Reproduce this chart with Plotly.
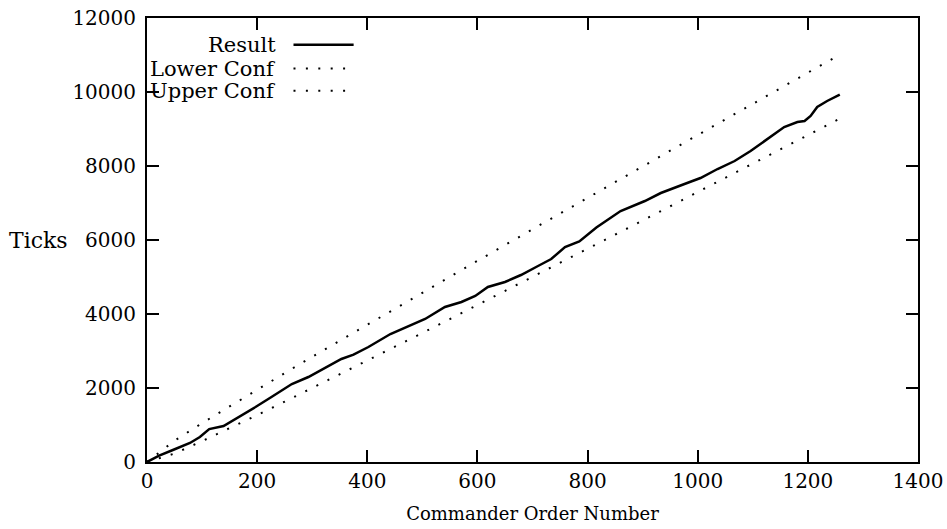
import plotly.graph_objects as go

# Result (cumulative ticks)
result_x = [0, 22, 47, 78, 96, 113, 139, 167, 197, 226, 263, 293, 324, 353, 375, 402, 442,
            475, 505, 541, 571, 596, 619, 650, 679, 710, 734, 759, 785, 816, 860, 904, 933,
            976, 1005, 1036, 1067, 1096, 1127, 1157, 1181, 1194, 1205, 1217, 1235, 1258]
result_y = [0, 170, 324, 514, 676, 890, 973, 1216, 1486, 1757, 2108, 2297, 2540, 2784, 2900,
            3108, 3459, 3676, 3865, 4189, 4324, 4486, 4730, 4865, 5054, 5297, 5486, 5811,
            5960, 6338, 6784, 7054, 7270, 7514, 7676, 7919, 8135, 8405, 8730, 9054, 9189,
            9216, 9351, 9595, 9757, 9930]

conf_x = [0, 50, 100, 150, 200, 250, 300, 350, 400, 450, 500, 550, 600, 650, 700, 750,
          800, 850, 900, 950, 1000, 1050, 1100, 1150, 1200, 1258]
lower_y = [0, 230, 563, 911, 1268, 1630, 1997, 2367, 2738, 3111, 3487, 3864, 4241, 4620,
           5000, 5381, 5762, 6144, 6527, 6910, 7293, 7677, 8063, 8448, 8833, 9280]
upper_y = [0, 576, 1051, 1509, 1958, 2402, 2843, 3279, 3714, 4147, 4579, 5008, 5437, 5864,
           6292, 6717, 7142, 7566, 7991, 8414, 8837, 9259, 9681, 10102, 10523, 11010]

x_ticks = [0, 200, 400, 600, 800, 1000, 1200, 1400]
y_ticks = [0, 2000, 4000, 6000, 8000, 10000, 12000]

FONT = "DejaVu Serif"
FS_TICK = 20
FS_TEXT = 21
DOT = "2px,10.4px"

fig = go.Figure()
fig.add_trace(go.Scatter(x=conf_x, y=upper_y, mode="lines", name="Upper Conf",
                         line=dict(color="black", width=2, dash=DOT), showlegend=False))
fig.add_trace(go.Scatter(x=conf_x, y=lower_y, mode="lines", name="Lower Conf",
                         line=dict(color="black", width=2, dash=DOT), showlegend=False))
fig.add_trace(go.Scatter(x=result_x, y=result_y, mode="lines", name="Result",
                         line=dict(color="black", width=2.5), showlegend=False))

# custom legend: text on the left, sample on the right
legend_items = [("Result", None, 0.940), ("Lower Conf", DOT, 0.886), ("Upper Conf", DOT, 0.836)]
for label, dash, yp in legend_items:
    fig.add_annotation(x=0.170, y=yp, xref="paper", yref="paper", text=label,
                       showarrow=False, xanchor="right", yanchor="middle",
                       font=dict(family=FONT, size=FS_TEXT, color="black"))
    fig.add_shape(type="line", xref="paper", yref="paper", x0=0.190, x1=0.268, y0=yp, y1=yp,
                  line=dict(color="black", width=2.5 if dash is None else 2,
                            dash="solid" if dash is None else dash))

fig.add_annotation(x=-0.181, y=0.5, xref="paper", yref="paper", text="Ticks",
                   showarrow=False, xanchor="left", yanchor="middle",
                   font=dict(family=FONT, size=22, color="black"))

axis_common = dict(showgrid=False, zeroline=False, showline=True, linecolor="black",
                   linewidth=2, mirror="ticks", ticks="inside", ticklen=12, tickwidth=1.5,
                   tickcolor="black", automargin=False, ticklabeloverflow="allow",
                   tickfont=dict(family=FONT, size=FS_TICK, color="black"))

fig.update_xaxes(range=[0, 1400], tickvals=x_ticks, ticktext=[str(v) for v in x_ticks],
                 title=dict(text="Commander Order Number", font=dict(family=FONT, size=18,
                            color="black")), **axis_common)
fig.update_yaxes(range=[0, 12000], tickvals=y_ticks, ticktext=[str(v) for v in y_ticks],
                 ticklabelstandoff=5, **axis_common)

fig.update_layout(width=947, height=529, plot_bgcolor="white", paper_bgcolor="white",
                  margin=dict(l=147, r=29, t=18, b=67), showlegend=False)

# remove the default 8px page margin so the figure fills the window exactly
fig.write_html("out.html", config={"displayModeBar": False},
               post_script="document.body.style.margin='0';"
                           "document.documentElement.style.overflow='hidden';")
